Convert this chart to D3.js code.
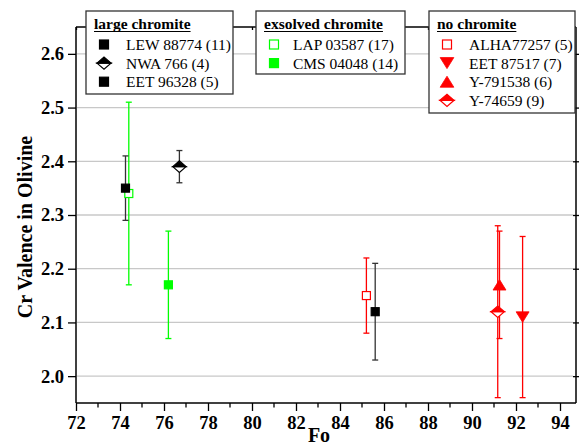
<!DOCTYPE html>
<html><head><meta charset="utf-8">
<script src="https://cdn.jsdelivr.net/npm/d3@7"></script>
<style>body{margin:0;background:#fff}svg{display:block}</style>
</head><body>
<svg id="c" width="579" height="447"></svg>
<script>
// ---------- data ----------
const sampleNames = ["LAP 03587 (17)","CMS 04048 (14)","LEW 88774 (11)","NWA 766 (4)","EET 96328 (5)","ALHA77257 (5)","EET 87517 (7)","Y-791538 (6)","Y-74659 (9)"];
const foValues   = [74.4, 76.2, 74.25, 76.7, 85.6, 85.2, 92.3, 91.25, 91.17];
const crValence  = [2.34, 2.17, 2.35, 2.39, 2.12, 2.15, 2.11, 2.17, 2.12];
const crError    = [0.17, 0.10, 0.06, 0.03, 0.09, 0.07, 0.15, 0.10, 0.16];
const sampleGroup = [1, 1, 0, 0, 0, 2, 2, 2, 2];
const groupTitles = ["large chromite", "exsolved chromite", "no chromite"];
const groupOrder = [[2, 3, 4], [0, 1], [5, 6, 7, 8]];
const xTickValues = [72, 74, 76, 78, 80, 82, 84, 86, 88, 90, 92, 94];
const yTickValues = [2.0, 2.1, 2.2, 2.3, 2.4, 2.5, 2.6];
const xLabel = "Fo";
const yLabel = "Cr Valence in Olivine";

// ---------- styles ----------
const markerStyle = [
  {shape: "squareOpen", color: "#00ff00"},
  {shape: "square", color: "#00ff00"},
  {shape: "square", color: "#000000"},
  {shape: "halfDiamond", color: "#000000"},
  {shape: "square", color: "#000000"},
  {shape: "squareOpen", color: "#ff0000"},
  {shape: "triDown", color: "#ff0000"},
  {shape: "triUp", color: "#ff0000"},
  {shape: "halfDiamond", color: "#ff0000"}
];
const errColor = i => markerStyle[i].color === "#000000" ? "#333" : markerStyle[i].color;

const svg = d3.select("#c");
const serif = "'Liberation Serif','Times New Roman',serif";
const pLeft = 76, pRight = 576, pTop = 27, pBottom = 403;
const x = d3.scaleLinear().domain([72, 72 + (pRight - pLeft) / 22]).range([pLeft, pRight]);
const y = d3.scaleLinear().domain([1.95, 2.65]).range([pBottom, pTop]);

// grid
svg.append("g").selectAll("line").data(yTickValues).join("line")
  .attr("x1", pLeft + 1).attr("x2", pRight - 3)
  .attr("y1", d => y(d)).attr("y2", d => y(d))
  .attr("stroke", "#c8c8c8").attr("stroke-width", 1.3);

// axes
const xMinor = d3.range(72, 95, 1);
const xAxis = d3.axisBottom(x).tickValues(xTickValues).tickSize(8).tickPadding(5).tickFormat(d3.format("d"));
const gx = svg.append("g").attr("transform", `translate(0,${pBottom})`).call(xAxis);
gx.selectAll("line.minor").data(xMinor.filter(v => v % 2)).join("line").attr("class", "minor")
  .attr("x1", d => x(d)).attr("x2", d => x(d)).attr("y1", 0).attr("y2", 4.5).attr("stroke", "#000").attr("stroke-width", 1.3);
const yAxis = d3.axisLeft(y).tickValues(yTickValues).tickSize(8).tickPadding(4).tickFormat(d3.format(".1f"));
const gy = svg.append("g").attr("transform", `translate(${pLeft},0)`).call(yAxis);
const gr = svg.append("g").attr("transform", `translate(${pRight},0)`)
  .call(d3.axisRight(y).tickValues(yTickValues).tickSize(4).tickFormat(""));
gr.selectAll(".tick line").attr("x1", -3);
const gt = svg.append("g").attr("transform", `translate(0,${pTop})`)
  .call(d3.axisBottom(x).tickValues(xTickValues).tickSize(3).tickFormat(""));
[gx, gy, gr, gt].forEach(g => {
  g.attr("font-family", serif);
  g.select(".domain").attr("stroke", "#000").attr("stroke-width", 1.5);
  g.selectAll(".tick line").attr("stroke", "#000").attr("stroke-width", 1.3);
  g.selectAll(".tick text").attr("font-family", serif).attr("font-weight", "bold")
    .attr("font-size", "18.5px").attr("fill", "#000");
});
gx.select(".domain").attr("d", `M${pLeft},0H${pRight}`);
gt.select(".domain").attr("d", `M${pLeft},0H${pRight}`);
gy.select(".domain").attr("d", `M0,${pTop}V${pBottom}`);
gr.select(".domain").attr("d", `M0,${pTop}V${pBottom}`);

// axis titles
svg.append("text").attr("x", 319).attr("y", 442).attr("text-anchor", "middle")
  .attr("font-family", serif).attr("font-weight", "bold").attr("font-size", "20px").text(xLabel);
svg.append("text").attr("transform", "translate(32,227) rotate(-90)").attr("text-anchor", "middle")
  .attr("font-family", serif).attr("font-weight", "bold").attr("font-size", "20px").text(yLabel);

// marker drawing
function drawMarker(g, shape, color, cx, cy, s) {
  const h = s / 2;
  if (shape === "square" || shape === "squareOpen") {
    g.append("rect").attr("x", cx - h + 0.5).attr("y", cy - h + 0.5).attr("width", s - 1).attr("height", s - 1)
      .attr("fill", shape === "square" ? color : "#fff").attr("stroke", color).attr("stroke-width", 1.2);
  } else if (shape === "triUp" || shape === "triDown") {
    const w = s * 0.36, hh = s * 0.29, sg = shape === "triUp" ? 1 : -1;
    g.append("path").attr("d", `M${cx},${cy - sg * hh}L${cx + w},${cy + sg * hh}L${cx - w},${cy + sg * hh}Z`)
      .attr("fill", color).attr("stroke", color).attr("stroke-width", 0.8);
  } else if (shape === "halfDiamond") {
    const w = s * 0.37, hh = s * 0.32;
    g.append("path").attr("d", `M${cx - w},${cy}L${cx},${cy + hh}L${cx + w},${cy}Z`)
      .attr("fill", "#fff").attr("stroke", color).attr("stroke-width", 1.2).attr("stroke-linejoin", "miter");
    g.append("path").attr("d", `M${cx - w},${cy}L${cx},${cy - hh}L${cx + w},${cy}Z`)
      .attr("fill", color).attr("stroke", color).attr("stroke-width", 1.2);
  }
}

// error bars + points
const pts = svg.append("g");
sampleNames.forEach((n, i) => {
  const cx = x(foValues[i]), c = errColor(i);
  const y1 = y(crValence[i] + crError[i]), y2 = y(crValence[i] - crError[i]);
  pts.append("line").attr("x1", cx).attr("x2", cx).attr("y1", y1).attr("y2", y2).attr("stroke", c).attr("stroke-width", 1.3);
  [y1, y2].forEach(yy => pts.append("line").attr("x1", cx - 3).attr("x2", cx + 3).attr("y1", yy).attr("y2", yy)
    .attr("stroke", c).attr("stroke-width", 1.3));
});
sampleNames.forEach((n, i) => {
  const m = markerStyle[i];
  drawMarker(pts, m.shape, m.color, x(foValues[i]), y(crValence[i]), m.shape === "square" || m.shape === "squareOpen" ? 9 : 18);
});

// legends
const boxes = [{x: 86, w: 147, h: 83}, {x: 256, w: 149, h: 63}, {x: 429, w: 146, h: 102}];
boxes.forEach((b, gi) => {
  const g = svg.append("g");
  g.append("rect").attr("x", b.x).attr("y", 11).attr("width", b.w).attr("height", b.h)
    .attr("fill", "#fff").attr("stroke", "#333").attr("stroke-width", 1.3);
  const t = g.append("text").attr("x", b.x + 8).attr("y", 28.5).attr("font-family", serif)
    .attr("font-weight", "bold").attr("font-size", "15.5px").text(groupTitles[gi]);
  const tl = t.node().getComputedTextLength();
  g.append("line").attr("x1", b.x + 8).attr("x2", b.x + 8 + tl).attr("y1", 31.5).attr("y2", 31.5)
    .attr("stroke", "#000").attr("stroke-width", 1.1);
  groupOrder[gi].forEach((si, r) => {
    const base = 50 + r * 18.6;
    const m = markerStyle[si];
    drawMarker(g, m.shape, m.color, b.x + 18, base - 5.5, m.shape === "square" || m.shape === "squareOpen" ? 10 : 19);
    g.append("text").attr("x", b.x + (gi === 1 ? 37 : 40)).attr("y", base).attr("font-family", serif)
      .attr("font-size", "15.5px").text(sampleNames[si]);
  });
});
</script>
</body></html>
